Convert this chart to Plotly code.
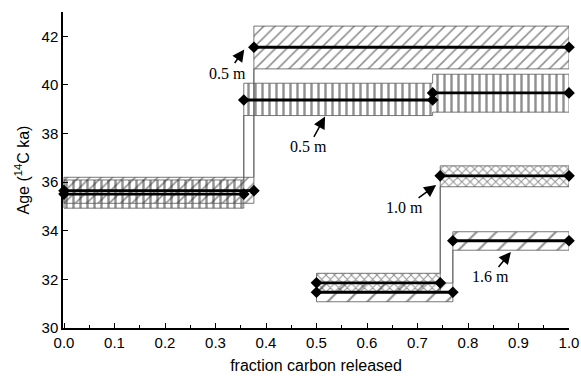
import plotly.graph_objects as go

# ---- data ----
edges_A = [0.0, 0.376, 1.0]
age_A = [35.65, 41.55]
lo_A = [35.13, 40.66]
hi_A = [36.20, 42.42]

edges_B = [0.0, 0.356, 0.730, 1.0]
age_B = [35.51, 39.38, 39.67]
lo_B = [34.93, 38.74, 38.88]
hi_B = [36.09, 40.07, 40.44]

edges_C = [0.5, 0.745, 1.0]
age_C = [31.86, 36.26]
lo_C = [31.45, 35.81]
hi_C = [32.25, 36.67]

edges_D = [0.5, 0.77, 1.0]
age_D = [31.47, 33.59]
lo_D = [31.08, 33.20]
hi_D = [31.85, 33.96]

x_ticks = [0.0, 0.1, 0.2, 0.3, 0.4, 0.5, 0.6, 0.7, 0.8, 0.9, 1.0]
y_ticks = [30, 32, 34, 36, 38, 40, 42]

labels = ["0.5 m", "0.5 m", "1.0 m", "1.6 m"]
arrow_tips = [(0.357, 41.46), (0.517, 38.70), (0.737, 35.88), (0.885, 33.13)]
label_pos = [(0.324, 40.49), (0.484, 37.45), (0.675, 34.94), (0.844, 32.10)]

series = [
    (edges_B, age_B, lo_B, hi_B, dict(shape="|", size=7, solidity=0.35)),
    (edges_A, age_A, lo_A, hi_A, dict(shape="/", size=8, solidity=0.2)),
    (edges_C, age_C, lo_C, hi_C, dict(shape="x", size=6, solidity=0.3)),
    (edges_D, age_D, lo_D, hi_D, dict(shape="/", size=14, solidity=0.15)),
]

fig = go.Figure()

for edges, age, lo, hi, pat in series:
    px, py = [], []
    for i in range(len(age)):
        px += [edges[i], edges[i + 1]]
        py += [hi[i], hi[i]]
    for i in reversed(range(len(age))):
        px += [edges[i + 1], edges[i]]
        py += [lo[i], lo[i]]
    px.append(px[0])
    py.append(py[0])
    fig.add_trace(go.Scatter(
        x=px, y=py, mode="lines", fill="toself",
        fillcolor="rgba(0,0,0,0)",
        fillpattern=dict(fgcolor="#222", bgcolor="rgba(0,0,0,0)", **pat),
        line=dict(color="#555", width=0.8),
        hoverinfo="skip", showlegend=False, cliponaxis=False,
    ))

for edges, age, lo, hi, pat in series:
    lx, ly = [], []
    for i in range(len(age)):
        lx += [edges[i], edges[i + 1], None]
        ly += [age[i], age[i], None]
    fig.add_trace(go.Scatter(
        x=lx, y=ly, mode="lines+markers",
        line=dict(color="black", width=2.8),
        marker=dict(symbol="diamond", size=9, color="black"),
        showlegend=False, cliponaxis=False,
    ))

for (tx, ty), (lx, ly), txt in zip(arrow_tips, label_pos, labels):
    fig.add_annotation(x=tx, y=ty, xref="x", yref="y",
                       ax=lx, ay=ly, axref="x", ayref="y",
                       text=txt, showarrow=True, arrowhead=2, arrowsize=1.6,
                       arrowwidth=1.5, arrowcolor="black", standoff=0,
                       font=dict(family="Liberation Serif", size=16, color="black"))

fig.update_layout(
    width=581, height=376,
    margin=dict(l=63, r=12, t=12, b=48),
    plot_bgcolor="white", paper_bgcolor="white",
    font=dict(family="Liberation Sans", size=15, color="black"),
)
fig.update_xaxes(
    range=[-0.002, 1.0], tickvals=x_ticks,
    ticktext=[f"{v:.1f}" for v in x_ticks],
    ticks="inside", ticklen=5, tickwidth=1, tickcolor="black",
    minor=dict(ticks="inside", ticklen=3, dtick=0.05, tickcolor="black"),
    showline=True, linecolor="black", linewidth=1.5,
    showgrid=False, zeroline=False, automargin=False,
    title=dict(text="fraction carbon released", font=dict(size=16), standoff=10),
)
fig.update_yaxes(
    range=[30, 43], tickvals=y_ticks,
    ticks="inside", ticklen=5, tickwidth=1, tickcolor="black",
    showline=True, linecolor="black", linewidth=1.5,
    showgrid=False, zeroline=False, automargin=False,
    title=dict(text="Age (<sup>14</sup>C ka)", font=dict(size=16), standoff=8),
)

fig.write_html("out.html")
